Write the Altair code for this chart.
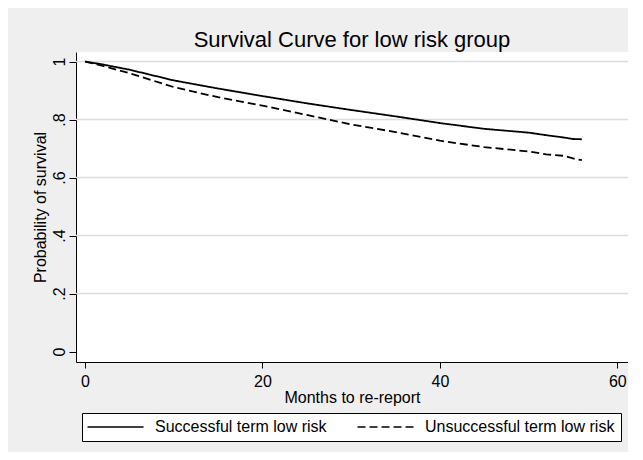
import altair as alt
import pandas as pd

# Kaplan-Meier survival estimates
months_success = [0, 2, 5, 10, 15, 20, 25, 30, 35, 40, 45, 50, 52, 54, 55, 56]
surv_success = [1.0, 0.99, 0.972, 0.935, 0.907, 0.881, 0.856, 0.833, 0.811,
                0.788, 0.768, 0.755, 0.746, 0.738, 0.733, 0.732]

months_unsuccess = [0, 2, 5, 10, 15, 20, 25, 30, 35, 40, 45, 50, 52, 54, 55, 56]
surv_unsuccess = [1.0, 0.985, 0.96, 0.912, 0.877, 0.848, 0.816, 0.783, 0.757,
                  0.727, 0.705, 0.690, 0.680, 0.675, 0.666, 0.660]

series_names = ["Successful term low risk", "Unsuccessful term low risk"]
x_ticks = [0, 20, 40, 60]
y_ticks = [0, 0.2, 0.4, 0.6, 0.8, 1.0]
grid_values = [0.2, 0.4, 0.6, 0.8, 1.0]

rows = []
for m, s in zip(months_success, surv_success):
    rows.append({"months": m, "surv": s, "group": series_names[0]})
for m, s in zip(months_unsuccess, surv_unsuccess):
    rows.append({"months": m, "surv": s, "group": series_names[1]})
df = pd.DataFrame(rows)
grid_df = pd.DataFrame({"surv": grid_values})

FONT = "Liberation Sans"

x_scale = alt.Scale(domain=[-1.02, 61.2], nice=False, zero=False)
y_scale = alt.Scale(domain=[-0.036, 1.033], nice=False, zero=False)

y_axis = alt.Axis(values=y_ticks, title="Probability of survival", grid=False,
                  tickSize=7, labelPadding=5, labelAngle=270,
                  labelAlign="center", labelBaseline="alphabetic",
                  labelExpr="datum.value > 0.999 ? '1' : (datum.value < 0.001 ? '0' : replace(format(datum.value, '.1f'), '0.', '.'))",
                  labelFontSize=16, titleFontSize=16, titlePadding=3)

grid = alt.Chart(grid_df).mark_rule(color="#dcdcdc", strokeWidth=1.5).encode(
    y=alt.Y("surv:Q", scale=y_scale, axis=y_axis)
)

lines = alt.Chart(df).mark_line(color="black", strokeWidth=1.8).encode(
    x=alt.X("months:Q", scale=x_scale,
            axis=alt.Axis(values=x_ticks, title="Months to re-report", grid=False,
                          tickSize=6, labelPadding=5, titlePadding=0,
                          labelFontSize=16, titleFontSize=16, format="d")),
    y=alt.Y("surv:Q", scale=y_scale, axis=y_axis),
    strokeDash=alt.StrokeDash(
        "group:N",
        scale=alt.Scale(domain=series_names, range=[[1, 0], [8, 4]]),
        legend=alt.Legend(
            title=None, orient="none", legendX=6, legendY=361,
            direction="horizontal", symbolType="M-14,0H14", symbolSize=16,
            symbolOffset=19.5, symbolStrokeWidth=1.5, symbolStrokeColor="black",
            labelFontSize=16, labelLimit=400, labelOffset=31.5,
            columnPadding=27, padding=6, fillColor="white",
            strokeColor="black", cornerRadius=0,
        ),
    ),
)

chart = alt.layer(grid, lines).properties(
    width=552,
    height=310,
    padding={"left": 68, "top": 44, "right": 0, "bottom": 90},
    autosize=alt.AutoSizeParams(type="none"),
    background="#efefef",
    title=alt.Title("Survival Curve for low risk group", fontSize=22,
                    fontWeight="normal", font=FONT, color="black",
                    anchor="middle", offset=0),
).configure_view(
    fill="white", stroke=None
).configure_axis(
    domainColor="black", tickColor="black", labelColor="black",
    titleColor="black", labelFont=FONT, titleFont=FONT,
    titleFontWeight="normal", domainWidth=1, tickWidth=1,
).configure_legend(
    labelFont=FONT, labelColor="black",
)

chart.save("out.html", embed_options={"renderer": "svg", "actions": False})
